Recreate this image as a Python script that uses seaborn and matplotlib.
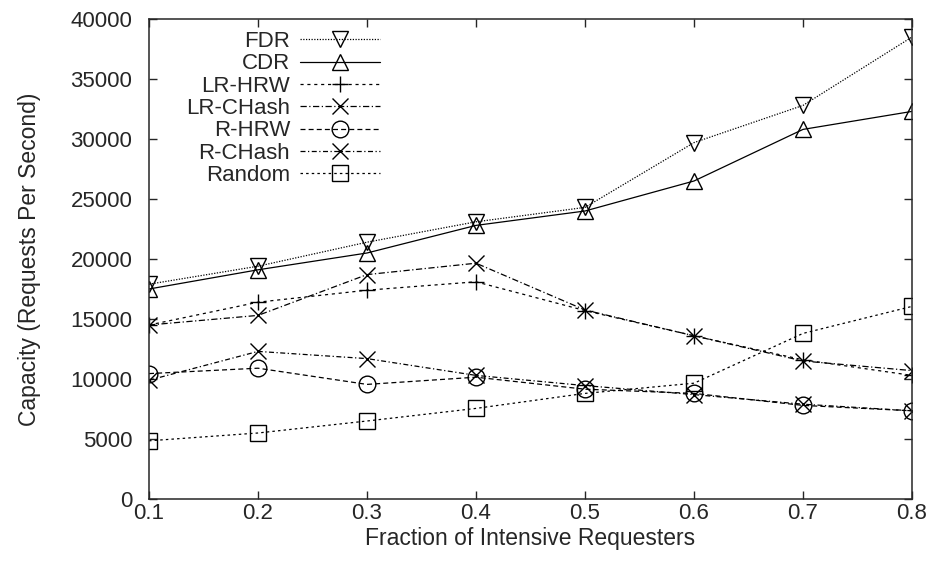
import pandas as pd
import matplotlib
matplotlib.use("Agg")
import matplotlib.pyplot as plt
import seaborn as sns

# Data
fractions = [0.1, 0.2, 0.3, 0.4, 0.5, 0.6, 0.7, 0.8]
fdr = [17900, 19400, 21400, 23100, 24300, 29700, 32800, 38500]
cdr = [17500, 19100, 20500, 22800, 24000, 26500, 30800, 32300]
lr_hrw = [14500, 16400, 17400, 18100, 15700, 13600, 11600, 10300]
lr_chash = [14500, 15300, 18700, 19650, 15750, 13600, 11500, 10700]
r_hrw = [10450, 10900, 9550, 10150, 9150, 8800, 7800, 7350]
r_chash = [9900, 12300, 11700, 10300, 9450, 8700, 7900, 7350]
random_ = [4850, 5500, 6500, 7550, 8800, 9650, 13800, 16050]

series = ["FDR", "CDR", "LR-HRW", "LR-CHash", "R-HRW", "R-CHash", "Random"]
values = [fdr, cdr, lr_hrw, lr_chash, r_hrw, r_chash, random_]
markers = ["v", "^", "+", "x", "o", "x", "s"]
dashes = [(1, 1.2), (), (2.5, 3), (5, 2, 1, 2), (4, 2.5), (4, 2, 1, 2), (2, 2.5)]

df = pd.DataFrame({"fraction": fractions * len(series),
                   "capacity": sum(values, []),
                   "scheme": [s for s in series for _ in fractions]})

sns.set_style("ticks")
plt.rcParams["font.family"] = ["Liberation Sans", "DejaVu Sans"]
plt.rcParams["xtick.direction"] = "in"
plt.rcParams["ytick.direction"] = "in"
plt.rcParams["xtick.top"] = True
plt.rcParams["ytick.right"] = True

fig = plt.figure(figsize=(9.35, 5.72), dpi=100)
ax = fig.add_axes([149 / 935, 1 - 499 / 572, 763 / 935, 480 / 572])

for name, m, d in zip(series, markers, dashes):
    sub = df[df["scheme"] == name]
    sns.lineplot(data=sub, x="fraction", y="capacity", ax=ax, color="black",
                 marker=m, markersize=12, markerfacecolor="none",
                 markeredgecolor="black", markeredgewidth=1.0,
                 linewidth=0.9, label=name)
    if d:
        ax.get_lines()[-1].set_dashes(d)

ax.set_xlim(0.1, 0.8)
ax.set_ylim(0, 40000)
ax.set_xticks(fractions)
ax.set_yticks(range(0, 40001, 5000))
ax.tick_params(axis="both", which="major", length=6, width=1, labelsize=16)
ax.tick_params(axis="x", pad=3)
ax.tick_params(axis="y", pad=12)
for s in ax.spines.values():
    s.set_linewidth(1.1)
ax.set_xlabel("Fraction of Intensive Requesters", fontsize=16.5, labelpad=2)
ax.set_ylabel("Capacity (Requests Per Second)", fontsize=16.5, labelpad=21)

leg = ax.legend(loc="upper right", bbox_to_anchor=(0.303, 0.975), markerfirst=False,
                frameon=False, fontsize=16, handlelength=3.6, handletextpad=0.45,
                labelspacing=0.06, borderpad=0.0, borderaxespad=0.0)
for col in leg._legend_handle_box.get_children():
    col.align = "right"

plt.savefig("out.png", dpi=100)
